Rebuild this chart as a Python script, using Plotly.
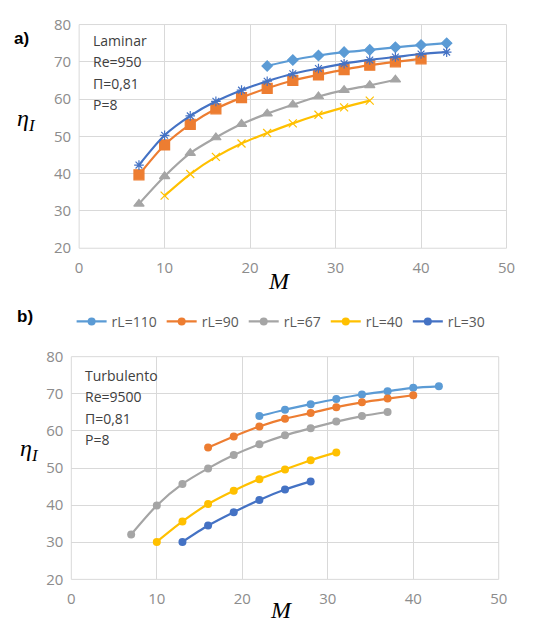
import plotly.graph_objects as go

# ---- data: panel a) Laminar ----
a_M110 = [22, 25, 28, 31, 34, 37, 40, 43]
a_r110 = [68.9, 70.5, 71.7, 72.6, 73.2, 73.9, 74.5, 75.0]
a_M90 = [7, 10, 13, 16, 19, 22, 25, 28, 31, 34, 37, 40]
a_r90 = [39.7, 47.7, 53.2, 57.4, 60.4, 62.9, 65.0, 66.5, 67.9, 69.1, 70.0, 70.8]
a_M67 = [7, 10, 13, 16, 19, 22, 25, 28, 31, 34, 37]
a_r67 = [31.9, 39.3, 45.5, 49.7, 53.3, 56.1, 58.5, 60.7, 62.4, 63.7, 65.2]
a_M40 = [10, 13, 16, 19, 22, 25, 28, 31, 34]
a_r40 = [34.1, 39.9, 44.5, 48.1, 50.9, 53.5, 55.8, 57.8, 59.6]
a_M30 = [7, 10, 13, 16, 19, 22, 25, 28, 31, 34, 37, 40, 43]
a_r30 = [42.3, 50.3, 55.5, 59.4, 62.4, 64.8, 66.8, 68.2, 69.5, 70.5, 71.3, 72.1, 72.6]

# ---- data: panel b) Turbulento ----
b_M110 = [22, 25, 28, 31, 34, 37, 40, 43]
b_r110 = [64.0, 65.7, 67.2, 68.6, 69.8, 70.7, 71.6, 72.0]
b_M90 = [16, 19, 22, 25, 28, 31, 34, 37, 40]
b_r90 = [55.5, 58.5, 61.2, 63.3, 64.8, 66.4, 67.7, 68.7, 69.6]
b_M67 = [7, 10, 13, 16, 19, 22, 25, 28, 31, 34, 37]
b_r67 = [32.1, 39.9, 45.7, 49.9, 53.5, 56.4, 58.8, 60.7, 62.5, 64.0, 65.1]
b_M40 = [10, 13, 16, 19, 22, 25, 28, 31]
b_r40 = [30.1, 35.6, 40.3, 43.9, 47.0, 49.6, 52.1, 54.2]
b_M30 = [13, 16, 19, 22, 25, 28]
b_r30 = [30.1, 34.5, 38.1, 41.4, 44.2, 46.4]

names = ["rL=110", "rL=90", "rL=67", "rL=40", "rL=30"]
colors = ["#5B9BD5", "#ED7D31", "#A5A5A5", "#FFC000", "#4472C4"]
a_symbols = ["diamond", "square", "triangle-up", "x-thin", "asterisk"]
a_sizes = [8, 10, 9, 8, 8]

fig = go.Figure()

a_sets = [(a_M110, a_r110), (a_M90, a_r90), (a_M67, a_r67), (a_M40, a_r40), (a_M30, a_r30)]
b_sets = [(b_M110, b_r110), (b_M90, b_r90), (b_M67, b_r67), (b_M40, b_r40), (b_M30, b_r30)]

for i, (xs, ys) in enumerate(a_sets):
    fig.add_trace(go.Scatter(
        x=xs, y=ys, mode="lines+markers", name=names[i], showlegend=False,
        line=dict(color=colors[i], width=2.2, shape="spline", smoothing=0.8),
        marker=dict(symbol=a_symbols[i], size=a_sizes[i], color=colors[i],
                    line=dict(color=colors[i], width=1.2)),
        xaxis="x", yaxis="y"))

for i, (xs, ys) in enumerate(b_sets):
    fig.add_trace(go.Scatter(
        x=xs, y=ys, mode="lines+markers", name=names[i], showlegend=True,
        line=dict(color=colors[i], width=2.2, shape="spline", smoothing=0.8),
        marker=dict(symbol="circle", size=8, color=colors[i]),
        xaxis="x2", yaxis="y2"))

tickfont = dict(family="Open Sans, Arial, sans-serif", size=15, color="#8c8c8c")
axcommon = dict(range=[0, 50], dtick=10, showgrid=True, gridcolor="#d9d9d9", gridwidth=1,
                zeroline=False, showline=False, tickfont=tickfont, ticks="", fixedrange=True)
aycommon = dict(range=[20, 80], dtick=10, showgrid=True, gridcolor="#d9d9d9", gridwidth=1,
                zeroline=False, showline=False, tickfont=tickfont, ticks="", fixedrange=True)

fig.update_layout(
    width=536, height=630,
    margin=dict(l=0, r=0, t=0, b=0),
    paper_bgcolor="white", plot_bgcolor="white",
    xaxis=dict(domain=[77/536, 515/536], anchor="y", ticklabelstandoff=9, **axcommon),
    yaxis=dict(domain=[1-245/630, 1-14/630], anchor="x", ticklabelstandoff=7, **aycommon),
    xaxis2=dict(domain=[69/536, 507/536], anchor="y2", ticklabelstandoff=9, **axcommon),
    yaxis2=dict(domain=[1-587/630, 1-357/630], anchor="x2", ticklabelstandoff=7, **aycommon),
    legend=dict(orientation="h", x=284/536, xanchor="center", y=1-321/630, yanchor="middle",
                font=dict(family="Open Sans, Arial, sans-serif", size=14, color="#595959"),
                itemwidth=30, tracegroupgap=0, bgcolor="rgba(0,0,0,0)"),
    showlegend=True,
)

for xr, yr in [("x", "y"), ("x2", "y2")]:
    fig.add_shape(type="rect", xref=xr + " domain", yref=yr + " domain", x0=0, x1=1, y0=0, y1=1,
                  line=dict(color="#d9d9d9", width=1), layer="below")

txtfont = dict(family="Open Sans, Arial, sans-serif", size=14, color="#404040")
for j, t in enumerate(["Laminar", "Re=950", "Π=0,81", "P=8"]):
    fig.add_annotation(text=t, xref="paper", yref="paper", x=89/536, y=1-(30+22.3*j)/630,
                       xanchor="left", yanchor="middle", showarrow=False, font=txtfont)
for j, t in enumerate(["Turbulento", "Re=9500", "Π=0,81", "P=8"]):
    fig.add_annotation(text=t, xref="paper", yref="paper", x=81/536, y=1-(376+22.3*j)/630,
                       xanchor="left", yanchor="middle", showarrow=False, font=txtfont)

labfont = dict(family="Arial, sans-serif", size=17, color="#000000")
fig.add_annotation(text="<b>a)</b>", xref="paper", yref="paper", x=8/536, y=1-28/630,
                   xanchor="left", yanchor="middle", showarrow=False, font=labfont)
fig.add_annotation(text="<b>b)</b>", xref="paper", yref="paper", x=11/536, y=1-315/630,
                   xanchor="left", yanchor="middle", showarrow=False, font=labfont)

serif = dict(family="Liberation Serif, DejaVu Serif, serif", size=24, color="#000000")
fig.add_annotation(text="<i>η<sub>I</sub></i>", xref="paper", yref="paper", x=23/536, y=1-113/630,
                   xanchor="center", yanchor="middle", showarrow=False, font=serif)
fig.add_annotation(text="<i>η<sub>I</sub></i>", xref="paper", yref="paper", x=26/536, y=1-453/630,
                   xanchor="center", yanchor="middle", showarrow=False, font=serif)
fig.add_annotation(text="<i>M</i>", xref="paper", yref="paper", x=282/536, y=1-279/630,
                   xanchor="center", yanchor="middle", showarrow=False, font=serif)
fig.add_annotation(text="<i>M</i>", xref="paper", yref="paper", x=284/536, y=1-619/630,
                   xanchor="center", yanchor="middle", showarrow=False, font=serif)

fig.write_html("out.html")
